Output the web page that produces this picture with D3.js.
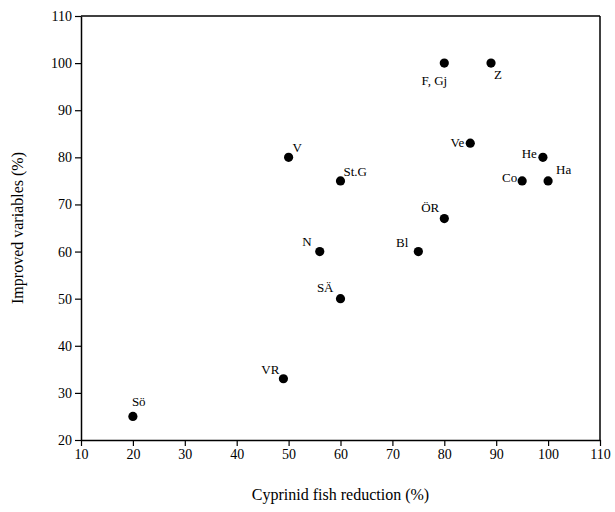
<!DOCTYPE html>
<html><head><meta charset="utf-8">
<script src="https://cdn.jsdelivr.net/npm/d3@7"></script>
<style>body{margin:0;background:#fff}svg{display:block}</style>
</head><body>
<svg id="c" width="615" height="512"></svg>
<script>
const labels = ["Sö","VR","V","St.G","N","SÄ","Bl","ÖR","F, Gj","Z","Ve","He","Co","Ha"];
const xValues = [20,49,50,60,56,60,75,80,80,89,85,99,95,100];
const yValues = [25,33,80,75,60,50,60,67,100,100,83,80,75,75];
const xTicks = [10,20,30,40,50,60,70,80,90,100,110];
const yTicks = [20,30,40,50,60,70,80,90,100,110];

// label placement (dx, dy, anchor) relative to point
const place = {
  "Sö":[-1,-10,"start"], "VR":[-4,-5,"end"], "V":[4,-5,"start"], "St.G":[3,-5,"start"],
  "N":[-8,-6,"end"], "SÄ":[-7,-7,"end"], "Bl":[-10,-5,"end"], "ÖR":[-5,-7,"end"],
  "F, Gj":[-10,22,"middle"], "Z":[3,16,"start"], "Ve":[-6,4,"end"], "He":[-6,1,"end"],
  "Co":[-5,1,"end"], "Ha":[8,-7,"start"]
};

const svg = d3.select("#c");
const m = {l:81, r:600, t:16, b:440};
const x = d3.scaleLinear().domain([10,110]).range([m.l,m.r]);
const y = d3.scaleLinear().domain([20,110]).range([m.b,m.t]);
const font = "'Liberation Serif', 'Times New Roman', serif";

svg.append("g").attr("transform",`translate(0,${m.b})`)
  .call(d3.axisBottom(x).tickValues(xTicks).tickSize(6).tickPadding(3).tickSizeOuter(0))
  .call(g=>{g.select(".domain").attr("stroke","#000").attr("stroke-width",1.5);
    g.selectAll("line").attr("stroke-width",1.2);
    g.selectAll("text").attr("font-family",font).attr("font-size",14).attr("fill","#000");});
svg.append("g").attr("transform",`translate(${m.l},0)`)
  .call(d3.axisLeft(y).tickValues(yTicks).tickSize(6).tickPadding(3).tickSizeOuter(0))
  .call(g=>{g.select(".domain").attr("stroke","#000").attr("stroke-width",1.5);
    g.selectAll("line").attr("stroke-width",1.2);
    g.selectAll("text").attr("font-family",font).attr("font-size",14).attr("fill","#000");});
// top and right frame
svg.append("line").attr("x1",m.l).attr("x2",m.r).attr("y1",m.t).attr("y2",m.t).attr("stroke","#000").attr("stroke-width",1.5);
svg.append("line").attr("x1",m.r).attr("x2",m.r).attr("y1",m.t).attr("y2",m.b).attr("stroke","#000").attr("stroke-width",1.5);

const data = labels.map((l,i)=>({l, x:xValues[i], y:yValues[i]}));
svg.append("g").selectAll("circle").data(data).join("circle")
  .attr("cx",d=>x(d.x)).attr("cy",d=>y(d.y)).attr("r",4.6).attr("fill","#000");
svg.append("g").selectAll("text").data(data).join("text")
  .attr("x",d=>x(d.x)+place[d.l][0]).attr("y",d=>y(d.y)+place[d.l][1])
  .attr("text-anchor",d=>place[d.l][2])
  .attr("font-family",font).attr("font-size",13).attr("fill","#000")
  .text(d=>d.l);

svg.append("text").attr("x",(m.l+m.r)/2).attr("y",500).attr("text-anchor","middle")
  .attr("font-family",font).attr("font-size",16).text("Cyprinid fish reduction (%)");
svg.append("text").attr("transform",`translate(23,${(m.t+m.b)/2}) rotate(-90)`).attr("text-anchor","middle")
  .attr("font-family",font).attr("font-size",16).text("Improved variables (%)");
</script>
</body></html>
